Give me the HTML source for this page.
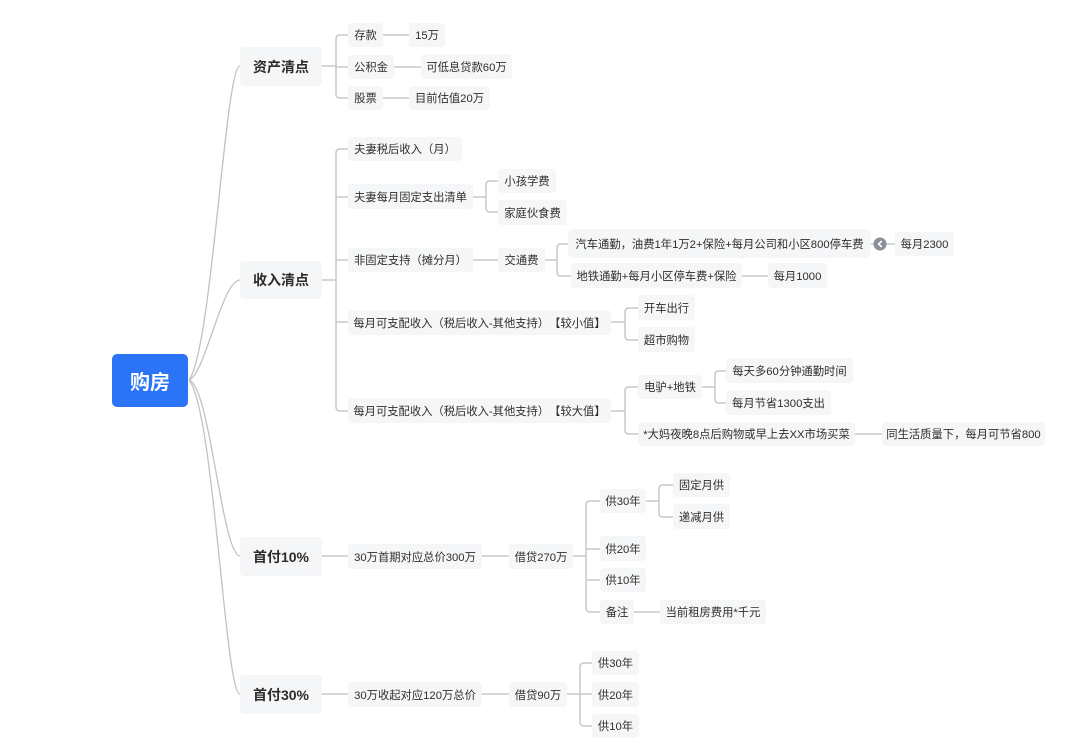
<!DOCTYPE html>
<html lang="zh">
<head>
<meta charset="utf-8">
<title>购房</title>
<style>
html,body{margin:0;padding:0;background:#fff}
#c{position:relative;width:1080px;height:746px;overflow:hidden;background:#fff;font-family:"Liberation Sans","Noto Sans CJK SC",sans-serif;text-spacing-trim:space-all}
svg{position:absolute;left:0;top:0}
.n{position:absolute;display:flex;align-items:center;justify-content:center;box-sizing:border-box;background:#f5f6f7;border-radius:4px;color:#2e2e2e;font-size:11.3px;white-space:nowrap}
.l{font-size:14px;font-weight:bold;color:#2b2b2b}
.r{background:#2b74f8;color:#fff;font-size:20px;font-weight:bold;border-radius:5px}
</style>
</head>
<body>
<div id="c">
<svg width="1080" height="746" fill="none" stroke="#c6c8cc" stroke-width="1.5">
<g stroke="#c2c2c4" stroke-width="1.3">
<path d="M189 380C212 350 225 66 240 66"/>
<path d="M189 380C205 375 222 280 240 280"/>
<path d="M189 380C210 385 222 556 240 556"/>
<path d="M189 380C214 410 225 694 240 694"/>
</g>

<path d="M322 66H336M348 35H340Q336 35 336 39V94Q336 98 340 98H348M336 67H348M383 35H409M394 67H421M383 98H409"/>
<path d="M322 280H336M348 149H340Q336 149 336 153V407Q336 411 340 411H348M336 197H348M336 260H348M336 322H348"/>
<path d="M473 197H486M498 181H490Q486 181 486 185V208Q486 212 490 212H498"/>
<path d="M473 260H498M545 260H557M568 244H561Q557 244 557 248V272Q557 276 561 276H571"/>
<path d="M871 244H895M742 276H768"/>
<path d="M611 322H625M638 308H629Q625 308 625 312V336Q625 340 629 340H638"/>
<path d="M611 411H625M638 387H629Q625 387 625 391V430Q625 434 629 434H638"/>
<path d="M702 387H715M728 371H719Q715 371 715 375V399Q715 403 719 403H728M855 434H882"/>
<path d="M322 556H348M482 556H509M573 556H586M600 501H590Q586 501 586 505V608Q586 612 590 612H600M586 549H600M586 580H600"/>
<path d="M646 501H659M673 485H663Q659 485 659 489V513Q659 517 663 517H673M634 612H660"/>
<path d="M322 694H348M482 694H509M567 694H580M592 663H584Q580 663 580 667V722Q580 726 584 726H592M580 694H592"/>
</svg>

<div class="n r" style="left:112px;top:354px;width:76px;height:53px">购房</div>

<div class="n l" style="left:240px;top:47px;width:82px;height:39px">资产清点</div>
<div class="n l" style="left:240px;top:261px;width:82px;height:38px">收入清点</div>
<div class="n l" style="left:240px;top:537px;width:82px;height:39px">首付10%</div>
<div class="n l" style="left:240px;top:675px;width:82px;height:39px">首付30%</div>

<div class="n" style="left:348px;top:23px;width:35px;height:24px">存款</div>
<div class="n" style="left:409px;top:23px;width:36px;height:24px">15万</div>
<div class="n" style="left:348px;top:55px;width:46px;height:24px">公积金</div>
<div class="n" style="left:421px;top:54px;width:91px;height:25px">可低息贷款60万</div>
<div class="n" style="left:348px;top:86px;width:35px;height:24px">股票</div>
<div class="n" style="left:409px;top:86px;width:81px;height:24px">目前估值20万</div>

<div class="n" style="left:348px;top:137px;width:114px;height:24px">夫妻税后收入（月）</div>
<div class="n" style="left:348px;top:184px;width:125px;height:25px">夫妻每月固定支出清单</div>
<div class="n" style="left:498px;top:169px;width:58px;height:24px">小孩学费</div>
<div class="n" style="left:498px;top:200px;width:69px;height:25px">家庭伙食费</div>
<div class="n" style="left:348px;top:248px;width:125px;height:24px">非固定支持（摊分月）</div>
<div class="n" style="left:498px;top:248px;width:47px;height:24px">交通费</div>
<div class="n" style="left:568px;top:229px;width:303px;height:29px;border-radius:6px">汽车通勤，油费1年1万2+保险+每月公司和小区800停车费</div>
<div class="n" style="left:895px;top:232px;width:59px;height:24px">每月2300</div>
<div class="n" style="left:571px;top:263px;width:171px;height:25px">地铁通勤+每月小区停车费+保险</div>
<div class="n" style="left:768px;top:263px;width:59px;height:25px">每月1000</div>

<div class="n" style="left:348px;top:310px;width:263px;height:25px">每月可支配收入（税后收入-其他支持）【较小值】</div>
<div class="n" style="left:638px;top:295px;width:57px;height:25px">开车出行</div>
<div class="n" style="left:638px;top:327px;width:57px;height:25px">超市购物</div>
<div class="n" style="left:348px;top:398px;width:263px;height:25px">每月可支配收入（税后收入-其他支持）【较大值】</div>
<div class="n" style="left:638px;top:375px;width:64px;height:24px">电驴+地铁</div>
<div class="n" style="left:726px;top:358px;width:127px;height:25px">每天多60分钟通勤时间</div>
<div class="n" style="left:726px;top:390px;width:105px;height:25px">每月节省1300支出</div>
<div class="n" style="left:638px;top:422px;width:217px;height:24px">*大妈夜晚8点后购物或早上去XX市场买菜</div>
<div class="n" style="left:882px;top:422px;width:163px;height:24px">同生活质量下，每月可节省800</div>

<div class="n" style="left:348px;top:544px;width:134px;height:25px">30万首期对应总价300万</div>
<div class="n" style="left:509px;top:544px;width:64px;height:25px">借贷270万</div>
<div class="n" style="left:600px;top:489px;width:46px;height:24px">供30年</div>
<div class="n" style="left:673px;top:473px;width:57px;height:24px">固定月供</div>
<div class="n" style="left:673px;top:504px;width:57px;height:25px">递减月供</div>
<div class="n" style="left:600px;top:536px;width:46px;height:25px">供20年</div>
<div class="n" style="left:600px;top:568px;width:46px;height:24px">供10年</div>
<div class="n" style="left:600px;top:600px;width:34px;height:24px">备注</div>
<div class="n" style="left:660px;top:600px;width:106px;height:24px">当前租房费用*千元</div>

<div class="n" style="left:348px;top:682px;width:134px;height:25px">30万收起对应120万总价</div>
<div class="n" style="left:509px;top:682px;width:58px;height:25px">借贷90万</div>
<div class="n" style="left:592px;top:651px;width:47px;height:24px">供30年</div>
<div class="n" style="left:592px;top:682px;width:47px;height:25px">供20年</div>
<div class="n" style="left:592px;top:714px;width:47px;height:24px">供10年</div>

<svg width="1080" height="746" fill="none">
<circle cx="880" cy="244" r="6.5" fill="#8a8f99"/>
<path d="M881.8 241L878.6 244L881.8 247" stroke="#fff" stroke-width="1.6"/>
</svg>
</div>
</body>
</html>
